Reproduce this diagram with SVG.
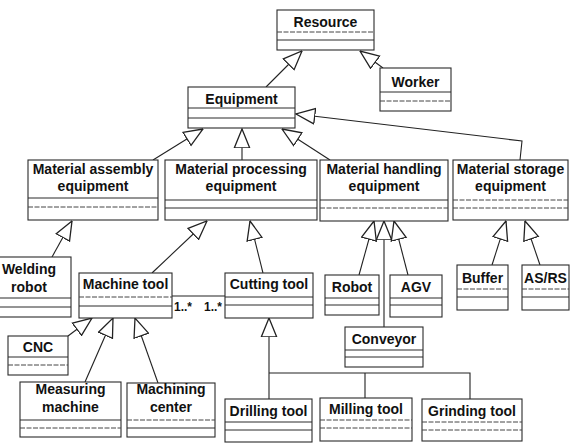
<svg xmlns="http://www.w3.org/2000/svg" width="573" height="444" viewBox="0 0 573 444">
  <style>
    .box rect { fill: #fff; stroke: #2a2a2a; stroke-width: 1.1; }
    .box line { stroke: #2a2a2a; stroke-width: 1; }
    .box line.dash { stroke-dasharray: 5 1.5; stroke: #444; }
    .box text { font-family: "Liberation Sans", Arial, sans-serif; font-weight: bold; font-size: 14px; fill: #111; text-anchor: middle; }
    .conn path { fill: none; stroke: #222; stroke-width: 1.1; }
    .gen { marker-end: url(#hollow); }
    .mult { font-family: "Liberation Sans", Arial, sans-serif; font-weight: bold; font-size: 12px; fill: #111; }
  </style>
  <defs>
    <!-- hollow triangle for generalization -->
    <marker id="hollow" markerUnits="userSpaceOnUse" markerWidth="20" markerHeight="18" viewBox="0 0 17 14" refX="16.5" refY="7" orient="auto">
      <path d="M0.5,0.5 L16.5,7 L0.5,13.5 Z" fill="#fff" stroke="#222" stroke-width="1.1"/>
    </marker>
  </defs>
  <rect width="573" height="444" fill="#fff"/>

  <!-- connectors -->
  <g class="conn" id="connectors">
    <path class="gen" d="M266,87 L302,51"/>
    <path class="gen" d="M383,68 L360,51"/>
    <path class="gen" d="M153,160 L203,129"/>
    <path class="gen" d="M242,160 L242,129"/>
    <path class="gen" d="M330,160 L282,129"/>
    <path class="gen" d="M520,160 L522,141 L296,114"/>
    <path class="gen" d="M52,257 L72,221"/>
    <path class="gen" d="M152,273 L207,221"/>
    <path class="gen" d="M263,273 L250,221"/>
    <path class="gen" d="M359,275 L374,221"/>
    <path class="gen" d="M384,327 L384,221"/>
    <path class="gen" d="M408,275 L394,221"/>
    <path class="gen" d="M492,265 L506,221"/>
    <path class="gen" d="M540,265 L525,221"/>
    <path class="gen" d="M68,336 L92,318"/>
    <path class="gen" d="M85,382 L113,318"/>
    <path class="gen" d="M158,383 L135,318"/>
    <path class="gen" d="M269,399 L269,318"/>
    <path d="M365,398 V373 M470,399 V373 H269"/>
    <path d="M172,296 H225"/>
    <text class="mult" x="174" y="311">1..*</text>
    <text class="mult" x="204" y="311">1..*</text>
  </g>

  <g class="box" id="resource">
    <rect x="277" y="10" width="97" height="40"/>
    <line class="dash" x1="277" y1="32" x2="374" y2="32"/>
    <line x1="277" y1="40" x2="374" y2="40"/>
    <text x="325.5" y="27">Resource</text>
  </g>
  <g class="box" id="worker">
    <rect x="380" y="68" width="71" height="43"/>
    <line x1="380" y1="92" x2="451" y2="92"/>
    <line class="dash" x1="380" y1="101" x2="451" y2="101"/>
    <text x="415.5" y="87">Worker</text>
  </g>
  <g class="box" id="equipment">
    <rect x="188" y="87" width="107" height="41"/>
    <line x1="188" y1="108" x2="295" y2="108"/>
    <line x1="188" y1="118" x2="295" y2="118"/>
    <text x="241.5" y="104">Equipment</text>
  </g>
  <g class="box" id="material-assembly">
    <rect x="28" y="160" width="130" height="60"/>
    <line x1="28" y1="198" x2="158" y2="198"/>
    <line class="dash" x1="28" y1="207" x2="158" y2="207"/>
    <text x="93" y="174">Material assembly</text>
    <text x="93" y="191">equipment</text>
  </g>
  <g class="box" id="material-processing">
    <rect x="165" y="160" width="152" height="60"/>
    <line x1="165" y1="200" x2="317" y2="200"/>
    <line x1="165" y1="208" x2="317" y2="208"/>
    <text x="241" y="174">Material processing</text>
    <text x="241" y="191">equipment</text>
  </g>
  <g class="box" id="material-handling">
    <rect x="320" y="160" width="128" height="61"/>
    <line x1="320" y1="200" x2="448" y2="200"/>
    <line class="dash" x1="320" y1="208" x2="448" y2="208"/>
    <text x="384" y="174">Material handling</text>
    <text x="384" y="191">equipment</text>
  </g>
  <g class="box" id="material-storage">
    <rect x="453" y="160" width="115" height="60"/>
    <line class="dash" x1="453" y1="200" x2="568" y2="200"/>
    <line class="dash" x1="453" y1="208" x2="568" y2="208"/>
    <text x="510.5" y="174">Material storage</text>
    <text x="510.5" y="191">equipment</text>
  </g>
  <g class="box" id="welding-robot">
    <rect x="-20" y="257" width="91" height="60"/>
    <line x1="-20" y1="298" x2="71" y2="298"/>
    <line x1="-20" y1="307" x2="71" y2="307"/>
    <text x="29" y="274">Welding</text>
    <text x="29" y="292">robot</text>
  </g>
  <g class="box" id="machine-tool">
    <rect x="79" y="273" width="93" height="45"/>
    <line class="dash" x1="79" y1="297" x2="172" y2="297"/>
    <line x1="79" y1="306" x2="172" y2="306"/>
    <text x="125.5" y="289">Machine tool</text>
  </g>
  <g class="box" id="cutting-tool">
    <rect x="225" y="273" width="88" height="45"/>
    <line x1="225" y1="297" x2="313" y2="297"/>
    <line x1="225" y1="305" x2="313" y2="305"/>
    <text x="269" y="289">Cutting tool</text>
  </g>
  <g class="box" id="robot">
    <rect x="325" y="275" width="54" height="40"/>
    <line x1="325" y1="298" x2="379" y2="298"/>
    <line x1="325" y1="305" x2="379" y2="305"/>
    <text x="352" y="292">Robot</text>
  </g>
  <g class="box" id="agv">
    <rect x="390" y="275" width="52" height="42"/>
    <line x1="390" y1="298" x2="442" y2="298"/>
    <line x1="390" y1="305" x2="442" y2="305"/>
    <text x="416" y="292">AGV</text>
  </g>
  <g class="box" id="buffer">
    <rect x="457" y="265" width="51" height="45"/>
    <line class="dash" x1="457" y1="289" x2="508" y2="289"/>
    <line x1="457" y1="297" x2="508" y2="297"/>
    <text x="482.5" y="283">Buffer</text>
  </g>
  <g class="box" id="asrs">
    <rect x="522" y="265" width="47" height="45"/>
    <line class="dash" x1="522" y1="289" x2="569" y2="289"/>
    <line x1="522" y1="297" x2="569" y2="297"/>
    <text x="545.5" y="283">AS/RS</text>
  </g>
  <g class="box" id="conveyor">
    <rect x="345" y="327" width="78" height="40"/>
    <line x1="345" y1="350" x2="423" y2="350"/>
    <line x1="345" y1="357" x2="423" y2="357"/>
    <text x="384" y="344">Conveyor</text>
  </g>
  <g class="box" id="cnc">
    <rect x="8" y="336" width="60" height="39"/>
    <line x1="8" y1="357" x2="68" y2="357"/>
    <line class="dash" x1="8" y1="365" x2="68" y2="365"/>
    <text x="38" y="352">CNC</text>
  </g>
  <g class="box" id="measuring-machine">
    <rect x="20" y="382" width="101" height="55"/>
    <line x1="20" y1="420" x2="121" y2="420"/>
    <line class="dash" x1="20" y1="428" x2="121" y2="428"/>
    <text x="70.5" y="394">Measuring</text>
    <text x="70.5" y="412">machine</text>
  </g>
  <g class="box" id="machining-center">
    <rect x="127" y="383" width="88" height="54"/>
    <line class="dash" x1="127" y1="420" x2="215" y2="420"/>
    <line x1="127" y1="428" x2="215" y2="428"/>
    <text x="171" y="394">Machining</text>
    <text x="171" y="412">center</text>
  </g>
  <g class="box" id="drilling-tool">
    <rect x="225" y="399" width="87" height="43"/>
    <line x1="225" y1="422" x2="312" y2="422"/>
    <line x1="225" y1="430" x2="312" y2="430"/>
    <text x="268.5" y="416">Drilling tool</text>
  </g>
  <g class="box" id="milling-tool">
    <rect x="320" y="398" width="92" height="43"/>
    <line class="dash" x1="320" y1="420" x2="412" y2="420"/>
    <line class="dash" x1="320" y1="428" x2="412" y2="428"/>
    <text x="366" y="414">Milling tool</text>
  </g>
  <g class="box" id="grinding-tool">
    <rect x="422" y="399" width="100" height="42"/>
    <line class="dash" x1="422" y1="422" x2="522" y2="422"/>
    <line class="dash" x1="422" y1="430" x2="522" y2="430"/>
    <text x="472" y="416">Grinding tool</text>
  </g>
</svg>
